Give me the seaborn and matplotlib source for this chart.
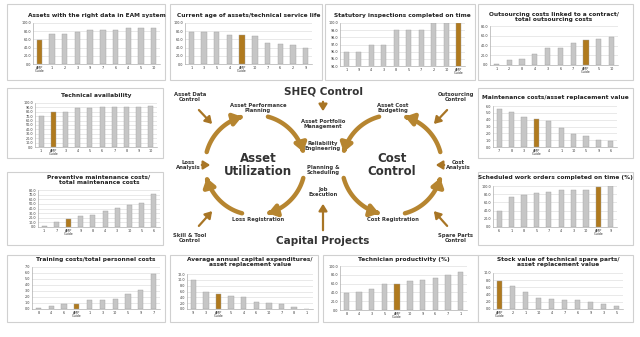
import matplotlib
matplotlib.use("Agg")
import numpy as np
import matplotlib.pyplot as plt
import seaborn as sns
from matplotlib.patches import Rectangle, FancyArrowPatch
from matplotlib.path import Path

# --- DADOS ---
AMP = "AMP\nGuide"

eam_labels = [AMP, "1", "2", "3", "9", "7", "6", "4", "5", "10"]
eam_values = [58, 73, 73, 78, 84, 84, 84, 89, 89, 89]

age_labels = ["1", "3", "5", "4", AMP, "10", "7", "6", "2", "9"]
age_values = [78, 78, 77, 70, 70, 68, 52, 48, 46, 38]

statutory_labels = ["1", "9", "4", "3", "8", "5", "7", "2", "10", AMP]
statutory_values = [96.0, 96.0, 97.0, 97.0, 99.0, 99.0, 99.0, 100.0, 100.0, 100.0]

outsourcing_labels = ["1", "2", "8", "4", "3", "6", "7", AMP, "5", "10"]
outsourcing_values = [3, 11, 13, 22, 34, 34, 45, 51, 54, 57]

availability_labels = ["1", AMP, "3", "4", "5", "6", "7", "8", "9", "10"]
availability_values = [70, 80, 79, 89, 89, 91, 91, 91, 91, 94]

maint_cost_labels = ["7", "8", "3", AMP, "4", "1", "10", "5", "9", "6"]
maint_cost_values = [5.6, 5.1, 4.4, 4.15, 3.85, 2.8, 1.85, 1.55, 1.05, 0.93]

preventive_labels = ["1", "7", AMP, "9", "8", "4", "3", "10", "5", "6"]
preventive_values = [2, 10, 16.5, 24, 26, 34, 42, 48, 52, 71]

scheduled_labels = ["6", "1", "8", "5", "7", "4", "3", "10", AMP, "9"]
scheduled_values = [38, 74, 79, 84, 86, 91, 91, 91, 97, 100]

training_labels = ["8", "4", "6", AMP, "1", "3", "10", "5", "9", "7"]
training_values = [0.1, 0.45, 0.83, 0.9, 1.55, 1.55, 1.7, 2.55, 3.1, 5.9]

capex_labels = ["9", "3", AMP, "5", "4", "6", "10", "7", "8", "1"]
capex_values = [10.0, 5.8, 5.25, 4.6, 4.0, 2.4, 2.2, 1.7, 0.7, 0.1]

productivity_labels = ["8", "4", "3", "5", AMP, "10", "9", "6", "7", "1"]
productivity_values = [39, 41, 48.5, 59, 59, 65, 68, 73, 79, 87]

spares_labels = [AMP, "2", "1", "10", "4", "7", "6", "9", "3", "5"]
spares_values = [7.7, 6.3, 4.7, 3.05, 2.8, 2.5, 2.5, 1.85, 1.4, 0.83]

W, H = 640, 337
GRAY = "#c6c6c6"
GOLD = "#b07a1e"

# --- LAYOUT: (titulo, labels, valores, ymin, ymax, passo, caixa, eixo, y do titulo) ---
panels = [
    ("Assets with the right data in EAM system", eam_labels, eam_values, 0, 100, 20,
     (7, 4, 165, 80), (33, 23, 160, 64), 15),
    ("Current age of assets/technical service life", age_labels, age_values, 0, 100, 20,
     (170, 4, 322, 80), (185, 23, 312, 64), 15),
    ("Statutory inspections completed on time", statutory_labels, statutory_values, 94, 100, 1,
     (325, 4, 475, 80), (340, 23, 465, 66), 15),
    ("Outsourcing costs linked to a contract/\ntotal outsourcing costs", outsourcing_labels,
     outsourcing_values, 0, 80, 20, (478, 4, 633, 80), (490, 26, 618, 65), 17),
    ("Technical availability", availability_labels, availability_values, 0, 100, 10,
     (7, 88, 163, 158), (35, 103, 157, 147), 96),
    ("Maintenance costs/asset replacement value", maint_cost_labels, maint_cost_values, 0, 6, 1,
     (478, 88, 633, 158), (493, 106, 617, 147), 97),
    ("Preventive maintenance costs/\ntotal maintenance costs", preventive_labels, preventive_values,
     0, 80, 10, (7, 172, 163, 245), (38, 190, 160, 227), 180),
    ("Scheduled work orders completed on time (%)", scheduled_labels, scheduled_values, 0, 100, 20,
     (478, 172, 633, 245), (493, 186, 617, 227), 178),
    ("Training costs/total personnel costs", training_labels, training_values, 0, 7, 1,
     (7, 255, 165, 322), (32, 267, 160, 309), 260),
    ("Average annual capital expenditures/\nasset replacement value", capex_labels, capex_values,
     0, 12, 2, (170, 255, 318, 322), (187, 274, 313, 309), 262),
    ("Technician productivity (%)", productivity_labels, productivity_values, 0, 100, 20,
     (323, 255, 478, 322), (340, 266, 467, 310), 260),
    ("Stock value of technical spare parts/\nasset replacement value", spares_labels, spares_values,
     0, 10, 2, (478, 255, 633, 322), (493, 273, 623, 309), 262),
]


def px_axes(fig, box):
    x0, y0, x1, y1 = box
    return fig.add_axes([x0 / W, 1 - y1 / H, (x1 - x0) / W, (y1 - y0) / H])


def arc_arrow(ax, cx, cy, r, t0, t1, color):
    t = np.radians(np.linspace(t0, t1, 40))
    verts = np.column_stack([cx + r * np.cos(t), cy - r * np.sin(t)])
    ax.add_patch(FancyArrowPatch(path=Path(verts), arrowstyle="-|>,head_length=5,head_width=3.5",
                                 lw=3.2, color=color, mutation_scale=1, zorder=3))


def straight_arrow(ax, p0, p1, color="#a87525", lw=1.6):
    ax.add_patch(FancyArrowPatch(p0, p1, arrowstyle="-|>,head_length=4,head_width=2.5",
                                 lw=lw, color=color, mutation_scale=1, zorder=3))


sns.set_style("white")
plt.rcParams["font.family"] = ["DejaVu Sans"]
fig = plt.figure(figsize=(6.4, 3.37), dpi=100)

# fundo e diagrama central em coordenadas de pixel
bg = fig.add_axes([0, 0, 1, 1])
bg.set_xlim(0, W)
bg.set_ylim(H, 0)
bg.axis("off")

for title, labels, values, ymin, ymax, step, box, axbox, ty in panels:
    x0, y0, x1, y1 = box
    bg.add_patch(Rectangle((x0, y0), x1 - x0, y1 - y0, facecolor="white",
                           edgecolor="#d0d0d0", lw=0.8, zorder=1))
    bg.text((axbox[0] + axbox[2]) / 2, ty, title, ha="center", va="center",
            fontsize=4.2, weight="bold", color="#222222", linespacing=1.1, zorder=2)

# circulos
for cx, cy, direction in [(255, 165, -1), (392, 165, 1)]:
    for mid in [45, 135, 225, 315]:
        arc_arrow(bg, cx, cy, 50, mid - 30 * direction, mid + 30 * direction, "#b68530")

txt = dict(ha="center", va="center", color="#333333", zorder=4)
bg.text(323, 91, "SHEQ Control", fontsize=7.5, weight="bold", **txt)
bg.text(323, 241, "Capital Projects", fontsize=7.5, weight="bold", **txt)
bg.text(258, 165, "Asset\nUtilization", fontsize=8.5, weight="bold", linespacing=1.0, **txt)
bg.text(392, 165, "Cost\nControl", fontsize=8.5, weight="bold", linespacing=1.0, **txt)

small = [
    (323, 124, "Asset Portfolio\nManagement"), (323, 146, "Reliability\nEngineering"),
    (323, 170, "Planning &\nScheduling"), (323, 192, "Job\nExecution"),
    (190, 97, "Asset Data\nControl"), (258, 108, "Asset Performance\nPlanning"),
    (188, 165, "Loss\nAnalysis"), (258, 220, "Loss Registration"),
    (190, 238, "Skill & Tool\nControl"), (393, 108, "Asset Cost\nBudgeting"),
    (456, 97, "Outsourcing\nControl"), (458, 165, "Cost\nAnalysis"),
    (393, 220, "Cost Registration"), (456, 238, "Spare Parts\nControl"),
]
for x, y, s in small:
    bg.text(x, y, s, fontsize=3.8, weight="bold", linespacing=1.0, **txt)

straight_arrow(bg, (323, 99), (323, 114))
straight_arrow(bg, (323, 233), (323, 201))
straight_arrow(bg, (197, 108), (214, 126))
straight_arrow(bg, (199, 165), (213, 165))
straight_arrow(bg, (197, 228), (214, 209))
straight_arrow(bg, (449, 108), (432, 126))
straight_arrow(bg, (447, 165), (433, 165))
straight_arrow(bg, (449, 228), (432, 209))

# graficos de barras
for title, labels, values, ymin, ymax, step, box, axbox, ty in panels:
    ax = px_axes(fig, axbox)
    colors = [GOLD if l == AMP else GRAY for l in labels]
    sns.barplot(x=labels, y=values, hue=labels, palette=colors, legend=False, saturation=1,
                width=0.42, edgecolor="#a0a0a0", linewidth=0.3, ax=ax, zorder=2)
    ax.set_ylim(ymin, ymax)
    ax.set_yticks(np.arange(ymin, ymax + step / 2, step))
    ax.set_yticklabels([f"{v:.1f}" for v in np.arange(ymin, ymax + step / 2, step)])
    ax.yaxis.grid(True, color="#d9d9d9", lw=0.4, zorder=0)
    ax.set_axisbelow(True)
    ax.tick_params(axis="both", labelsize=2.4, length=0, pad=1.2, colors="#333333")
    for lab in ax.get_xticklabels():
        lab.set_linespacing(0.9)
    for side in ["top", "right"]:
        ax.spines[side].set_visible(False)
    for side in ["left", "bottom"]:
        ax.spines[side].set_color("#999999")
        ax.spines[side].set_linewidth(0.4)
    ax.set_xlabel("")
    ax.set_ylabel("")
    ax.patch.set_alpha(0)

fig.savefig("out.png", dpi=100)
